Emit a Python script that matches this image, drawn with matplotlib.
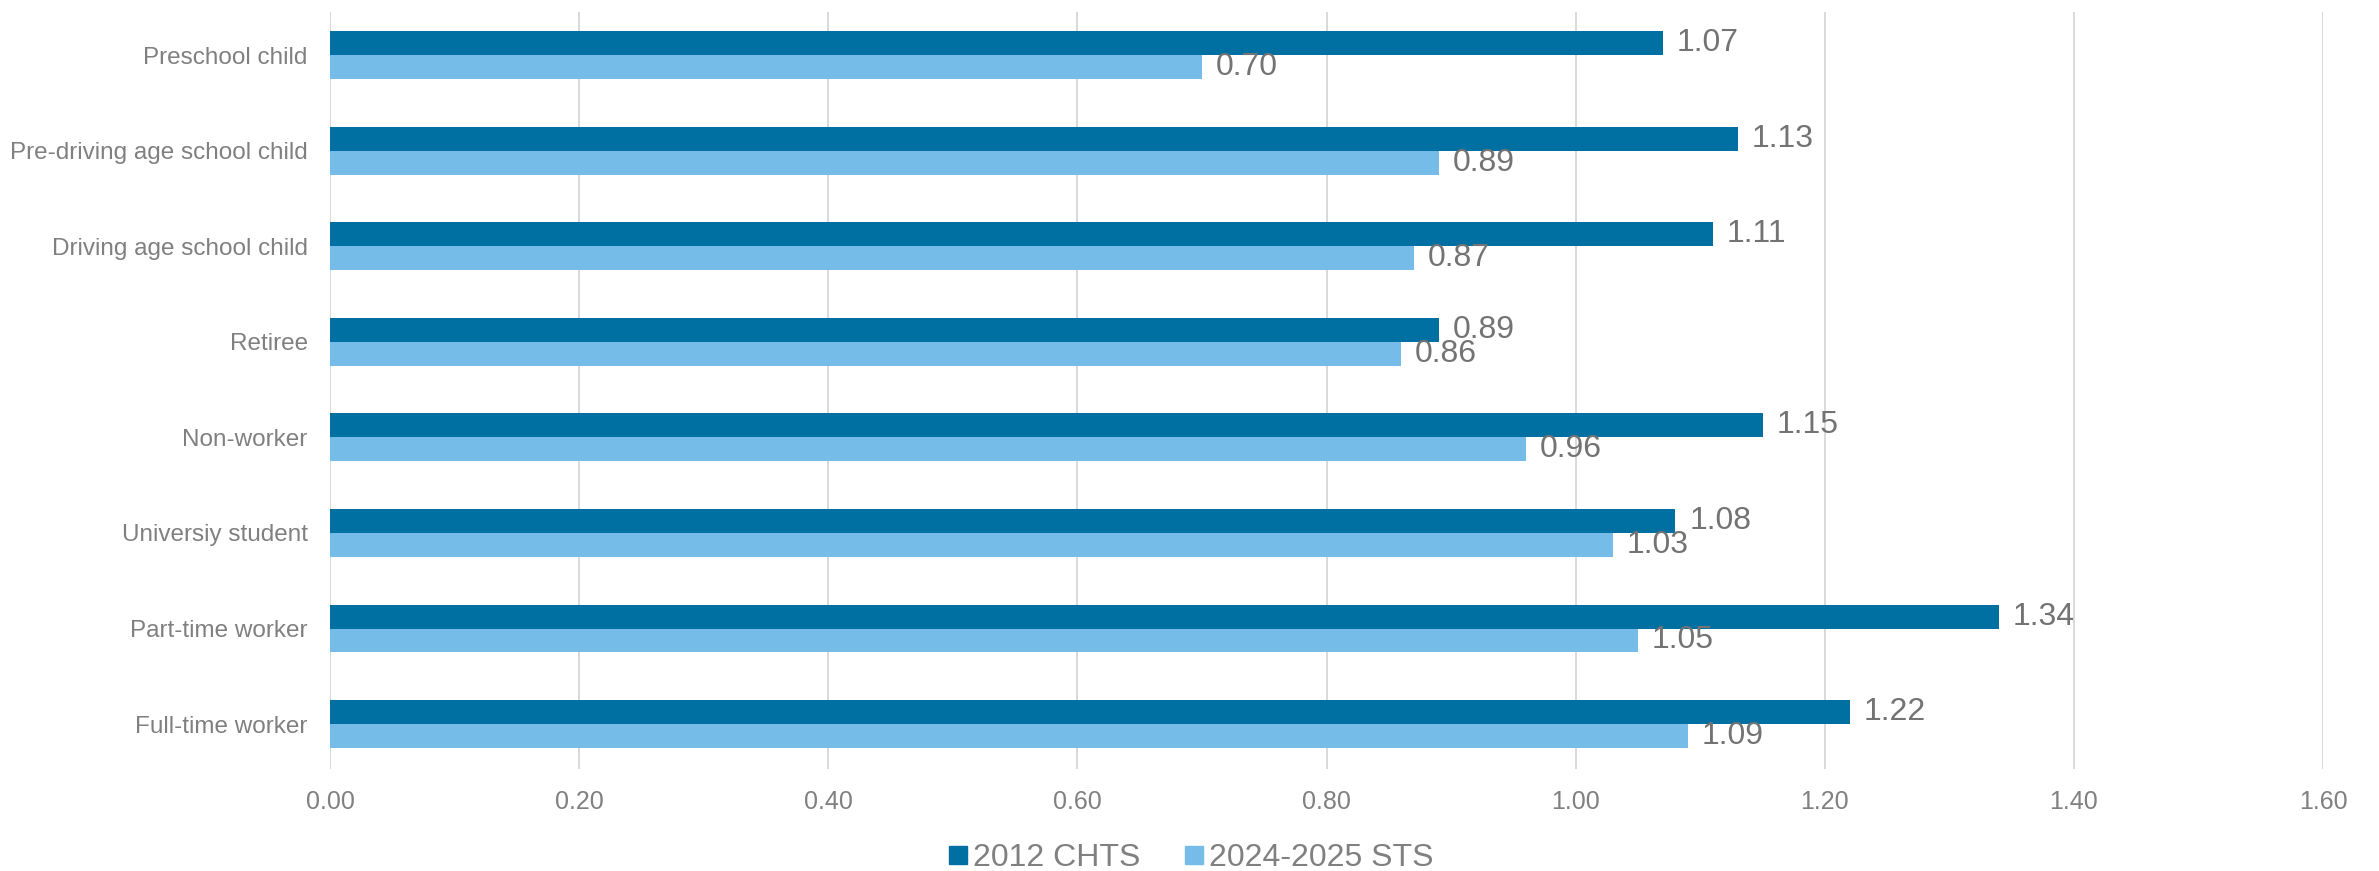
import matplotlib.pyplot as plt
import numpy as np
from matplotlib.lines import Line2D

plt.rcParams['font.family'] = ['Liberation Sans', 'DejaVu Sans']

# person types, bottom to top
categories = ['Full-time worker', 'Part-time worker', 'Universiy student', 'Non-worker',
              'Retiree', 'Driving age school child', 'Pre-driving age school child', 'Preschool child']
chts_2012 = [1.22, 1.34, 1.08, 1.15, 0.89, 1.11, 1.13, 1.07]
sts_2024 = [1.09, 1.05, 1.03, 0.96, 0.86, 0.87, 0.89, 0.70]
series_names = ['2012 CHTS', '2024-2025 STS']
xticks = [0.0, 0.2, 0.4, 0.6, 0.8, 1.0, 1.2, 1.4, 1.6]

dark = '#0070A2'
light = '#75BDE8'
grey_txt = '#808080'
val_txt = '#737373'

fig = plt.figure(figsize=(23.79, 8.71), dpi=100)
ax = fig.add_axes([0.1387, 0.1171, 0.9765 - 0.1387, 0.9862 - 0.1171])

y = np.arange(len(categories))
h = 0.25
b1 = ax.barh(y + h / 2, chts_2012, h, color=dark, zorder=3)
b2 = ax.barh(y - h / 2, sts_2024, h, color=light, zorder=3)

for bars, vals in [(b1, chts_2012), (b2, sts_2024)]:
    for bar, v in zip(bars, vals):
        ax.annotate(f'{v:.2f}', (v, bar.get_y() + bar.get_height() / 2),
                    xytext=(10, 0), textcoords='offset points',
                    ha='left', va='center', fontsize=23, color=val_txt)

ax.set_xlim(0, 1.6)
ax.set_ylim(-0.47, 7.45)
ax.set_xticks(xticks, [f'{t:.2f}' for t in xticks])
ax.set_yticks(y, categories)
ax.tick_params(axis='x', length=0, pad=15, labelsize=18, labelcolor=grey_txt)
ax.tick_params(axis='y', length=0, pad=16, labelsize=17.5, labelcolor=grey_txt)
ax.grid(axis='x', color='#D9D9D9', linewidth=1.4, zorder=0)
for s in ax.spines.values():
    s.set_visible(False)

handles = [Line2D([], [], marker='s', linestyle='none', markersize=13.5, color=c)
           for c in (dark, light)]
fig.legend(handles, series_names, loc='center', bbox_to_anchor=(0.5, 0.015), ncol=2,
           frameon=False, fontsize=23, labelcolor=grey_txt, handletextpad=0.05,
           columnspacing=1.3, handlelength=0.8)

fig.savefig('out.png', dpi=100, facecolor='white')
